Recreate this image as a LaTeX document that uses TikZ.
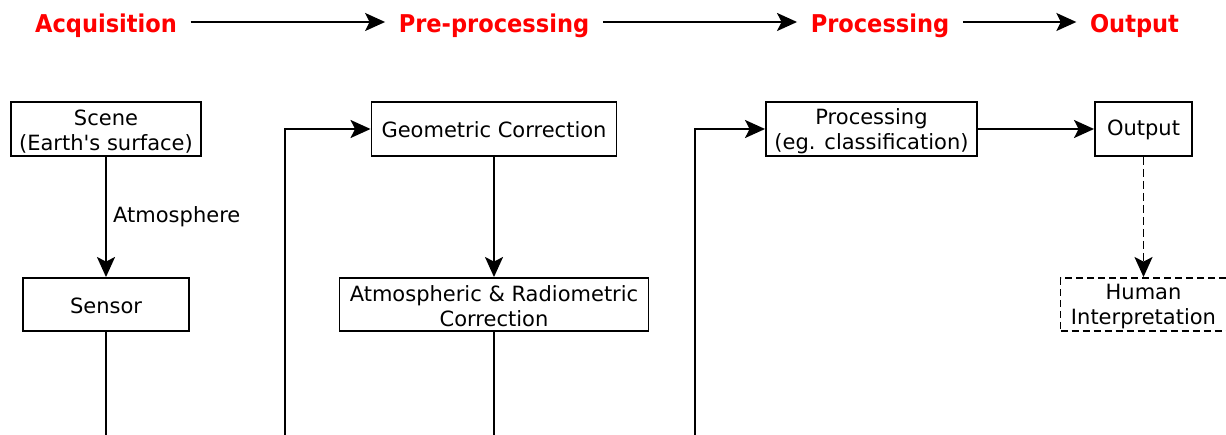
\documentclass[tikz,border=0pt]{standalone}
\usepackage{fontspec}
\setmainfont{DejaVu Sans}
\newfontfamily\headfont[FakeStretch=0.92]{DejaVu Sans}
\usetikzlibrary{arrows.meta}
\definecolor{hdred}{RGB}{255,0,0}
\newcommand\mystrut[1]{\rule{0pt}{#1}}
\begin{document}
\begin{tikzpicture}[x=1pt,y=-1pt,
  box/.style={draw,line width=1.9pt,inner sep=0pt,align=center,font=\fontsize{21}{25}\selectfont},
  dbox/.style={box,dash pattern=on 7pt off 4pt},
  lbl/.style={inner sep=0pt,font=\fontsize{21}{25}\selectfont},
  head/.style={text=hdred,font=\headfont\bfseries\fontsize{24.5}{28}\selectfont,inner xsep=13.5pt,inner ysep=0pt,text height=25pt,text depth=4.4pt},
  conn/.style={line width=1.9pt,-{Stealth[length=20pt,width=18pt,inset=4.5pt]}},
  wire/.style={line width=1.9pt}]
\useasboundingbox (0,0) rectangle (1226,435);
\clip (0,0) rectangle (1226,435);
% header
\node[head] (hacq) at (106,22) {Acquisition};
\node[head] (hpre) at (494,22) {Pre-processing};
\node[head] (hproc) at (880,22) {Processing};
\node[head] (hout) at (1134.5,22) {Output};
\draw[conn] (hacq) -- (hpre);
\draw[conn] (hpre) -- (hproc);
\draw[conn] (hproc) -- (hout);
% acquisition column
\node[box,minimum width=190pt,minimum height=54pt] (scene) at (106,129) {\mystrut{20pt}Scene\\(Earth\textquotesingle s surface)};
\node[box,minimum width=166pt,minimum height=53pt] (sensor) at (106,304.5) {\mystrut{18pt}Sensor};
\node[lbl,anchor=west] (atm) at (113,217) {Atmosphere};
\draw[conn] (scene) -- (sensor);
\coordinate (sbot) at (106,445);
\draw[wire] (sensor) -- (sbot);
% pre-processing column
\node[box,minimum width=245pt,minimum height=54pt] (geo) at (494,129) {\mystrut{18pt}Geometric Correction};
\node[box,minimum width=309pt,minimum height=53pt] (atmc) at (494,304.5) {\mystrut{20pt}Atmospheric \& Radiometric\\Correction};
\coordinate (l1) at (285,445);
\draw[conn] (l1) |- (geo);
\draw[conn] (geo) -- (atmc);
\coordinate (abot) at (494,445);
\draw[wire] (atmc) -- (abot);
% processing column
\node[box,minimum width=211pt,minimum height=54pt] (proc) at (871.5,129) {\mystrut{20pt}Processing\\(eg. classification)};
\coordinate (l2) at (695,445);
\draw[conn] (l2) |- (proc);
% output column
\node[box,minimum width=97pt,minimum height=54pt] (out) at (1143.5,129) {\mystrut{18pt}Output};
\node[dbox,minimum width=166pt,minimum height=53pt] (human) at (1143.5,304.5) {\mystrut{20pt}Human\\Interpretation};
\draw[conn] (proc) -- (out);
\draw[conn,dash pattern=on 8pt off 4pt] (out) -- (human);
\end{tikzpicture}
\end{document}
